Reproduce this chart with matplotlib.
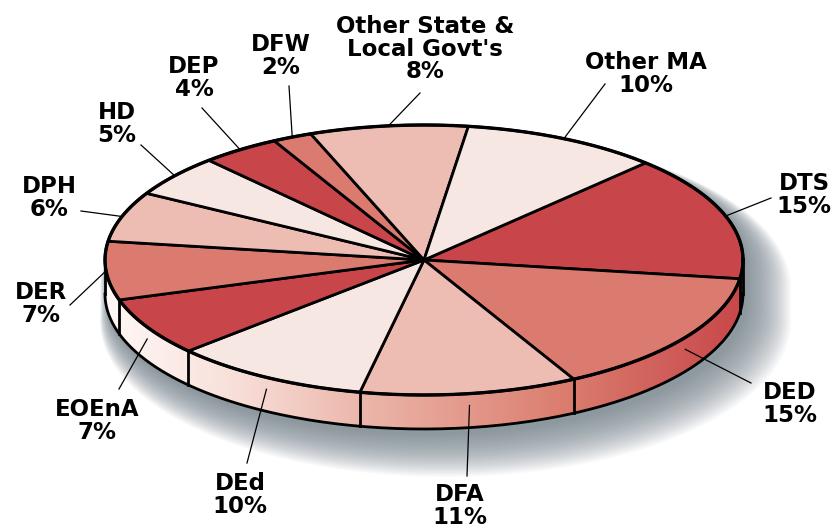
import numpy as np
import matplotlib.pyplot as plt
from matplotlib.patches import Polygon
from matplotlib.colors import LinearSegmentedColormap

# slices, clockwise from the DTS / Other MA edge
labels = ["DTS", "DED", "DFA", "DEd", "EOEnA", "DER", "DPH", "HD", "DEP", "DFW",
          "Other State &\nLocal Govt's", "Other MA"]
shares = [15, 15, 11, 10, 7, 7, 6, 5, 4, 2, 8, 10]

palette = ["#c8464a", "#db7a6e", "#edbdb3", "#f7e7e3"]
slice_colors = [palette[i % 4] for i in range(len(shares))]

# label layout in pixels (y down): text centre, leader start
label_pos = [(804, 195), (790, 404), (460, 506), (240, 495), (97, 421), (41, 304),
             (49, 198), (117, 124), (194, 78), (281, 56), (425, 49), (646, 74)]
leader_start = [(771, 198), (751, 383), (467, 476), (247, 463), (119, 389), (70, 305),
                (81, 211), (141, 145), (202, 108), (289, 86), (420, 93), (605, 84)]

cx, cy, rx, ry, depth = 424, 260, 319, 135, 34
start = 46.0

fig = plt.figure(figsize=(8.32, 5.29), dpi=100)
ax = fig.add_axes([0, 0, 1, 1])


def rim(t, dy=0.0, ex=0.0, ey=0.0):
    t = np.radians(t)
    return np.column_stack([cx + (rx + ex) * np.cos(t), cy - (ry + ey) * np.sin(t) + dy])


# soft shadow under the pie, thrown to the lower right
for e in np.linspace(44, 0, 32):
    top = rim(np.linspace(0, 180, 120), ex=e * 0.6, ey=e * 0.45)
    bot = rim(np.linspace(180, 360, 120), dy=depth, ex=e * 0.6, ey=e * 0.45)
    pts = np.vstack([top, bot]) + [e * 0.4 + 4, e * 0.5 + 6]
    ax.add_patch(Polygon(pts, closed=True, facecolor="#6f7e87", edgecolor="none",
                         alpha=0.04, zorder=1))

# side wall with left-to-right gradient
ts = np.linspace(-180, 0, 200)
side_pts = np.vstack([rim(ts), rim(ts[::-1], dy=depth)])
side = Polygon(side_pts, closed=True, facecolor="none", edgecolor="none")
ax.add_patch(side)
side_cmap = LinearSegmentedColormap.from_list(
    "side", [(0, "#fff8f6"), (0.2, "#f8e0da"), (0.4, "#ecb7ab"),
             (0.7, "#dc8172"), (1, "#c8474a")])
grad = np.linspace(0, 1, 256).reshape(1, -1)
im = ax.imshow(grad, cmap=side_cmap, extent=[cx - rx, cx + rx, cy + ry + depth, cy],
               aspect="auto", zorder=2, interpolation="bilinear")
im.set_clip_path(side)

lw = 2.0
# side outline
bottom = rim(ts, dy=depth)
ax.plot(bottom[:, 0], bottom[:, 1], color="black", lw=lw, zorder=3)
for t in (-180, 0):
    p = rim(t)[0]
    ax.plot([p[0], p[0]], [p[1], p[1] + depth], color="black", lw=lw, zorder=3)

# slice edges
cum = np.concatenate([[0], np.cumsum(shares)])
edges = start - 360.0 * cum / cum[-1]

for i in range(len(shares)):
    a0, a1 = edges[i], edges[i + 1]
    arc = rim(np.linspace(a0, a1, 80))
    pts = np.vstack([[cx, cy], arc])
    ax.add_patch(Polygon(pts, closed=True, facecolor=slice_colors[i], edgecolor="black",
                         lw=lw, joinstyle="round", zorder=4))
    # vertical seam on visible side
    s = np.sin(np.radians(a1))
    if s < -0.02:
        p = rim(a1)[0]
        ax.plot([p[0], p[0]], [p[1], p[1] + depth], color="black", lw=lw, zorder=3)

# outer rim
ring = rim(np.linspace(0, 360, 400))
ax.plot(ring[:, 0], ring[:, 1], color="black", lw=lw + 0.4, zorder=5)

# labels and leaders
for i, lab in enumerate(labels):
    mid = (edges[i] + edges[i + 1]) / 2
    end = rim(mid)[0]
    if np.sin(np.radians(mid)) < -0.3:
        end[1] += depth * 0.35
    sx, sy = leader_start[i]
    ax.plot([sx, end[0]], [sy, end[1]], color="black", lw=0.9, zorder=6)
    ax.text(label_pos[i][0], label_pos[i][1], f"{lab}\n{shares[i]}%",
            ha="center", va="center", fontsize=16.5, fontweight="bold",
            family="DejaVu Sans", linespacing=0.98, zorder=7)

ax.set_xlim(0, 832)
ax.set_ylim(529, 0)
ax.axis("off")
fig.savefig("out.png", dpi=100)
